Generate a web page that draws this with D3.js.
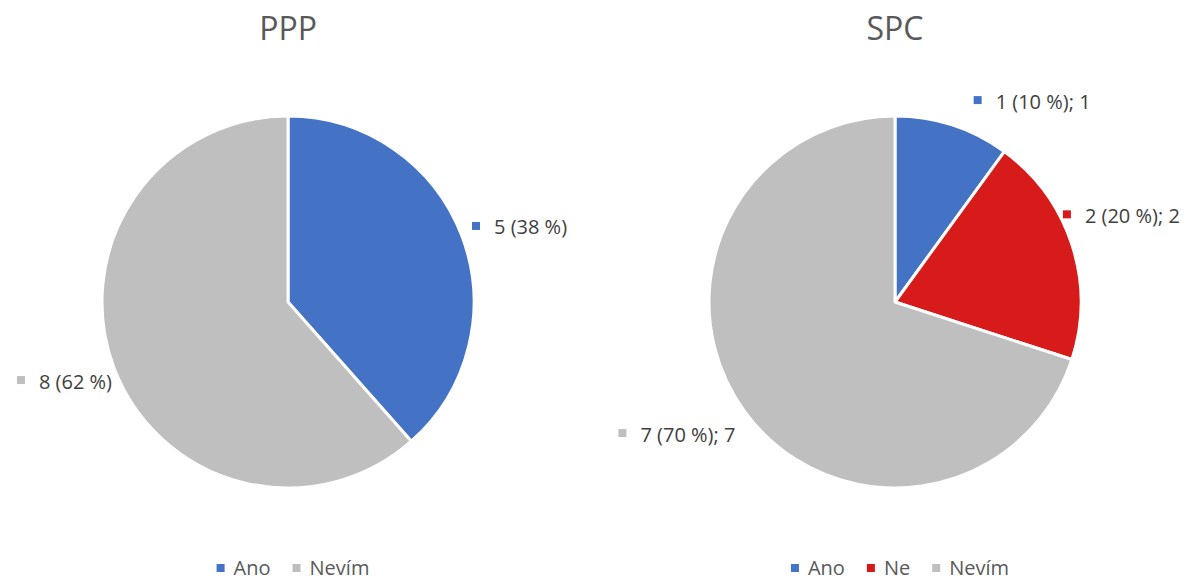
<!DOCTYPE html>
<html><head><meta charset="utf-8">
<script src="https://cdn.jsdelivr.net/npm/d3@7"></script>
<style>html,body{margin:0;padding:0;background:#fff;}svg{display:block;font-family:"Open Sans",sans-serif;}</style>
</head><body>
<svg id="chart" width="1190" height="580"></svg>
<script>
const titles = ["PPP", "SPC"];
const pppCategories = ["Ano", "Nevím"];
const pppValues = [5, 8];
const pppLabels = ["5 (38 %)", "8 (62 %)"];
const spcCategories = ["Ano", "Ne", "Nevím"];
const spcValues = [1, 2, 7];
const spcLabels = ["1 (10 %); 1", "2 (20 %); 2", "7 (70 %); 7"];

const colorMap = {"Ano": "#4472C4", "Ne": "#D71A1A", "Nevím": "#BFBFBF"};

const svg = d3.select("#chart");
const R = 186;
const charts = [
  {title: titles[0], cats: pppCategories, vals: pppValues, labels: pppLabels, cx: 288, cy: 302,
   nudge: [[-8.6, -3], [16.6, 5]]},
  {title: titles[1], cats: spcCategories, vals: spcValues, labels: spcLabels, cx: 895, cy: 302,
   nudge: [[15, -6], [-28, -24], [7, 10]]}
];

const pie = d3.pie().sort(null).value(d => d.v);
const arc = d3.arc().innerRadius(0).outerRadius(R);
const labelArc = d3.arc().innerRadius(R + 20).outerRadius(R + 20);

charts.forEach(c => {
  const g = svg.append("g");
  g.append("text").attr("x", c.cx).attr("y", 40).attr("text-anchor", "middle")
    .attr("font-size", 32).attr("fill", "#595959").text(c.title);

  const data = c.cats.map((k, i) => ({k, v: c.vals[i], label: c.labels[i], i}));
  const arcs = pie(data);
  const pg = g.append("g").attr("transform", `translate(${c.cx},${c.cy})`);
  pg.selectAll("path").data(arcs).enter().append("path")
    .attr("d", arc).attr("fill", d => colorMap[d.data.k])
    .attr("stroke", "#fff").attr("stroke-width", 3).attr("stroke-linejoin", "round");

  arcs.forEach(a => {
    const mid = (a.startAngle + a.endAngle) / 2;
    const [px, py] = labelArc.centroid(a);
    const nx = px + c.nudge[a.data.i][0], ny = py + c.nudge[a.data.i][1];
    const right = Math.sin(mid) >= 0;
    const lg = pg.append("g");
    const t = lg.append("text").attr("font-size", 20).attr("fill", "#404040")
      .attr("dominant-baseline", "central").text(a.data.label);
    const w = t.node().getComputedTextLength();
    const gap = 14, ms = 8;
    let startX = right ? nx : nx - (ms + gap + w);
    lg.append("rect").attr("x", startX).attr("y", ny - ms / 2).attr("width", ms).attr("height", ms)
      .attr("fill", colorMap[a.data.k]);
    t.attr("x", startX + ms + gap).attr("y", ny + 1);
  });

  // legend
  const lg = g.append("g");
  let x = 0;
  c.cats.forEach(k => {
    const it = lg.append("g");
    it.append("rect").attr("x", x).attr("y", -11).attr("width", 8).attr("height", 8).attr("fill", colorMap[k]);
    const t = it.append("text").attr("x", x + 17).attr("y", 0).attr("font-size", 20).attr("fill", "#595959").text(k);
    const w = t.node().getComputedTextLength();
    x += 17 + w + 22;
  });
  const total = x - 22;
  lg.attr("transform", `translate(${c.cx + 5 - total / 2},575)`);
});
</script>
</body></html>
